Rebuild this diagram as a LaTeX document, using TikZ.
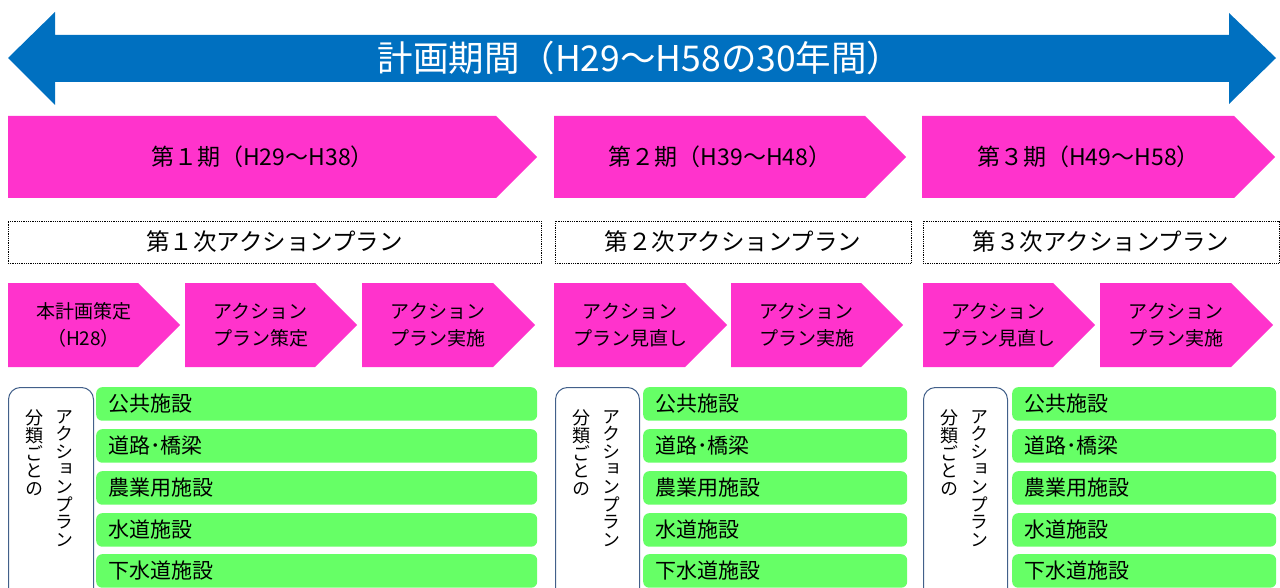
\documentclass[tikz,border=0pt]{standalone}
\usepackage{fontspec}
\usepackage{tikz}
\usetikzlibrary{positioning}
\newfontfamily\jp{Noto Sans CJK JP}
\newfontfamily\jpv[RawFeature=+vert]{Noto Sans CJK JP}
\definecolor{arrowblue}{RGB}{0,112,192}
\definecolor{stagepink}{RGB}{255,51,204}
\definecolor{catgreen}{RGB}{102,255,102}
\definecolor{outlineblue}{RGB}{66,96,138}

\begin{document}
\begin{tikzpicture}[x=1pt, y=-1pt, font=\jp,
  periodtext/.style={font=\jp\fontsize{23}{23}\selectfont},
  planbox/.style={draw, densely dotted, line width=0.8pt, fill=white, inner sep=0pt,
    font=\jp\fontsize{23.5}{23.5}\selectfont},
  steptext/.style={align=center, font=\jp\fontsize{19}{27}\selectfont},
  catbar/.style={fill=catgreen, rounded corners=6pt, inner xsep=12pt, inner ysep=0pt,
    align=left, anchor=north west, font=\jp\fontsize{21}{21}\selectfont},
  catframe/.style={draw=outlineblue, line width=1pt, rounded corners=12pt, anchor=north west},
  vtext/.style={align=center, anchor=north, inner sep=0pt, font=\jpv\fontsize{18}{17.6}\selectfont}]
  \useasboundingbox (0,0) rectangle (1280,588);
  % Plan period arrow
  \fill[arrowblue] (8,58) -- (55,12) -- (55,35) -- (1229,35) -- (1229,13) -- (1276,58)
    -- (1229,104) -- (1229,82) -- (55,82) -- (55,105) -- cycle;
  \node[white, font=\jp\fontsize{35.5}{35.5}\selectfont] (title) at (640,58) {計画期間（H29～H58の30年間）};
  % Periods
  \foreach \i/\xa/\xb/\txt in {1/8/537/第１期（H29～H38）, 2/554/906/第２期（H39～H48）,
      3/922/1275/第３期（H49～H58）} {
    \fill[stagepink] (\xa,116) -- (\xb-41,116) -- (\xb,157) -- (\xb-41,198) -- (\xa,198) -- cycle;
    \node[periodtext] (period\i) at ({(\xa+\xb)/2-10},157) {\txt};
  }
  % Action plans
  \foreach \i/\xa/\xb/\txt in {1/8/541/第１次アクションプラン, 2/555/911/第２次アクションプラン,
      3/923/1279/第３次アクションプラン}
    \node[planbox, minimum width={\xb-\xa}, minimum height=42] (plan\i) at ({(\xa+\xb)/2},242) {\txt};
  % Steps
  \foreach \i/\xa/\xb/\txt in {1/8/180/本計画策定\\（H28）, 2/185/357/アクション\\プラン策定,
      3/362/535/アクション\\プラン実施, 4/554/727/アクション\\プラン見直し,
      5/731/903/アクション\\プラン実施, 6/923/1095/アクション\\プラン見直し,
      7/1100/1273/アクション\\プラン実施} {
    \fill[stagepink] (\xa,283) -- (\xb-42,283) -- (\xb,325) -- (\xb-42,367) -- (\xa,367) -- cycle;
    \node[steptext] (step\i) at ({(\xa+\xb)/2-10.5},325) {\txt};
  }
  % Categories
  \foreach \p/\xo/\xc/\xa/\xb in {1/8/93/96/537, 2/555/639/643/907, 3/923/1007/1012/1276} {
    \node[catframe, minimum width={\xc-\xo}, minimum height=230] (frame\p) at (\xo,387) {};
    \node[vtext] (vright\p) at (\xo+56,410) {ア\\ク\\シ\\ョ\\ン\\プ\\ラ\\ン};
    \node[vtext] (vleft\p) at (\xo+26,410) {分\\類\\ご\\と\\の};
    \foreach \r/\y/\txt in {1/387/公共施設, 2/429/道路･橋梁, 3/471/農業用施設,
        4/513/水道施設, 5/554/下水道施設}
      \node[catbar, minimum width={\xb-\xa}, minimum height=33.5, text width={\xb-\xa-24}]
        (cat\p\r) at (\xa,\y) {\txt};
  }
\end{tikzpicture}
\end{document}
